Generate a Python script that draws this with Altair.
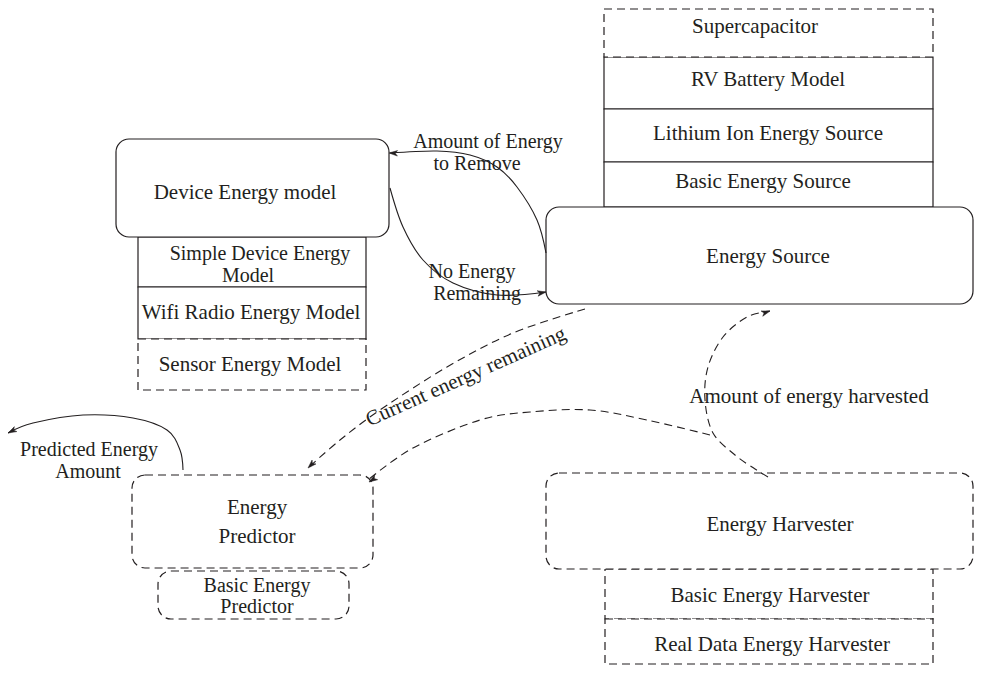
import altair as alt
import pandas as pd

# ---------------- data (image pixel coordinates) ----------------
box_names = ["Simple Device Energy Model", "Wifi Radio Energy Model", "Sensor Energy Model",
             "Supercapacitor", "RV Battery Model", "Lithium Ion Energy Source", "Basic Energy Source",
             "Basic Energy Harvester", "Real Data Energy Harvester",
             "Device Energy model", "Energy Source", "Energy Predictor",
             "Basic Energy Predictor", "Energy Harvester"]
box_x1 = [138, 138, 138, 604, 604, 604, 604, 605, 605, 116, 546, 132, 158, 546]
box_x2 = [366, 366, 366, 933, 933, 933, 933, 933, 933, 389, 973, 373, 349, 973]
box_y1 = [237, 287, 339, 9, 57, 109, 162, 569, 619, 139, 207, 475, 571, 473]
box_y2 = [287, 339, 390, 57, 109, 162, 207, 619, 664, 237, 304, 568, 619, 569]
box_dashed = [False, False, True, True, False, False, False, True, True,
              False, False, True, True, True]
box_rounded = [False, False, False, False, False, False, False, False, False,
               True, True, True, True, True]

curve_ids = (["remove"] * 7 + ["noenergy"] * 6 + ["current"] * 6 +
             ["harvested"] * 9 + ["topredictor"] * 7 + ["predicted"] * 7)
curve_x = [546, 537, 517, 497, 470, 437, 390] + \
          [390, 403, 423, 453, 497, 546] + \
          [585, 513, 447, 380, 340, 308] + \
          [768, 755, 735, 713, 705, 708, 723, 747, 770] + \
          [710, 647, 590, 530, 480, 413, 368] + \
          [183, 180, 167, 133, 83, 33, 8]
curve_y = [253, 220, 187, 167, 155, 151, 153] + \
          [188, 227, 260, 283, 295, 292] + \
          [309, 333, 367, 410, 440, 468] + \
          [477, 469, 455, 433, 400, 367, 337, 317, 311] + \
          [435, 420, 410, 412, 420, 448, 480] + \
          [470, 450, 430, 418, 415, 423, 433]
curve_dashed = {"remove": False, "noenergy": False, "current": True,
                "harvested": True, "topredictor": True, "predicted": False}

arrow_x = [389, 546, 308, 369, 770, 8]
arrow_y = [153, 292, 468, 482, 311, 433]
arrow_angle = [272, 80, 225, 237, 72, 243]

label_text = ["Device Energy model", "Simple Device Energy", "Model", "Wifi Radio Energy Model",
              "Sensor Energy Model", "Supercapacitor", "RV Battery Model",
              "Lithium Ion Energy Source", "Basic Energy Source", "Energy Source",
              "Amount of Energy", "to Remove", "No Energy", "Remaining",
              "Current energy remaining", "Amount of energy harvested",
              "Predicted Energy", "Amount", "Energy", "Predictor", "Basic Energy",
              "Predictor", "Energy Harvester", "Basic Energy Harvester",
              "Real Data Energy Harvester"]
label_x = [245, 260, 248, 251, 250, 755, 768, 768, 763, 768, 488, 477, 472, 477,
           466, 809, 89, 88, 257, 257, 257, 257, 780, 770, 772]
label_y = [193, 254, 276, 313, 365, 27, 80, 134, 182, 257, 142, 164, 272, 294,
           377, 397, 450, 472, 508, 537, 586, 607, 525, 596, 645]
label_angle = [0] * 14 + [336] + [0] * 10
label_size = [21, 20, 20, 21, 21, 21, 21, 21, 21, 21, 20, 20, 20, 20,
              21, 21, 20, 20, 21, 21, 20, 20, 21, 21, 21]

# ---------------- frames ----------------
boxes = pd.DataFrame({"name": box_names, "x1": box_x1, "x2": box_x2, "y1": box_y1,
                      "y2": box_y2, "dashed": box_dashed, "rounded": box_rounded})
curves = pd.DataFrame({"id": curve_ids, "x": curve_x, "y": curve_y})
curves["order"] = curves.groupby("id").cumcount()
curves["dashed"] = curves["id"].map(curve_dashed)
arrows = pd.DataFrame({"x": arrow_x, "y": arrow_y, "a": arrow_angle})
labels = pd.DataFrame({"t": label_text, "x": label_x, "y": label_y, "a": label_angle,
                       "fs": label_size})

INK = "#231f20"
XS = alt.Scale(domain=[8, 974], nice=False, zero=False)
YS = alt.Scale(domain=[8, 665], nice=False, zero=False, reverse=True)


def xq(f):
    return alt.X(f + ":Q", scale=XS, axis=None)


def yq(f):
    return alt.Y(f + ":Q", scale=YS, axis=None)


def rect_layer(dashed, rounded):
    sub = boxes[(boxes.dashed == dashed) & (boxes.rounded == rounded)]
    kw = dict(fill="white", stroke=INK, strokeWidth=1.2)
    if dashed:
        kw["strokeDash"] = [8, 5]
    if rounded:
        kw["cornerRadius"] = 13
    return alt.Chart(sub).mark_rect(**kw).encode(
        x=xq("x1"), x2="x2:Q", y=yq("y1"), y2="y2:Q")


def curve_layer(dashed):
    sub = curves[curves.dashed == dashed]
    kw = dict(stroke=INK, strokeWidth=1.1, interpolate="cardinal")
    if dashed:
        kw["strokeDash"] = [8, 5]
    return alt.Chart(sub).mark_line(**kw).encode(
        x=xq("x"), y=yq("y"), detail="id:N", order="order:Q")


arrow_path = "M0,0 L-0.55,1.7 L0,1.25 L0.55,1.7 Z"
arrow_layer = alt.Chart(arrows).mark_point(
    shape=arrow_path, filled=True, fill=INK, stroke=INK, strokeWidth=0.5,
    size=100, opacity=1).encode(
    x=xq("x"), y=yq("y"), angle=alt.Angle("a:Q", scale=None))

text_layer = alt.Chart(labels).mark_text(
    font="Liberation Serif", color=INK, align="center", baseline="middle").encode(
    x=xq("x"), y=yq("y"), text="t:N", size=alt.Size("fs:Q", scale=None),
    angle=alt.Angle("a:Q", scale=None))

chart = alt.layer(
    rect_layer(False, False), rect_layer(True, False),
    rect_layer(False, True), rect_layer(True, True),
    curve_layer(False), curve_layer(True), arrow_layer, text_layer
).properties(
    width=966, height=657, padding=0, autosize=alt.AutoSizeParams(type="none")
).configure_view(stroke=None)

chart.save("out.html", embed_options={"renderer": "svg", "actions": False})
